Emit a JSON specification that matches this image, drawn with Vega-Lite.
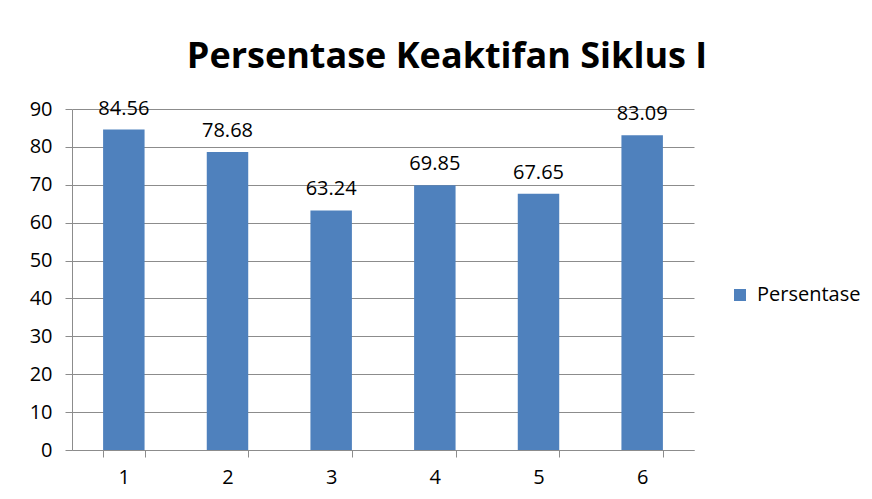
{
  "$schema": "https://vega.github.io/schema/vega-lite/v6.json",
  "width": 622,
  "height": 341,
  "autosize": {"type": "none"},
  "padding": {"left": 72, "top": 109, "right": 178, "bottom": 49},
  "background": "white",
  "title": {
    "text": "Persentase Keaktifan Siklus I",
    "font": "Open Sans",
    "fontSize": 36,
    "fontWeight": "bold",
    "color": "black",
    "anchor": "middle",
    "baseline": "alphabetic",
    "dx": 64,
    "offset": -5
  },
  "data": {
    "values": [
      {"siklus": "1", "nilai": 84.56, "seri": "Persentase"},
      {"siklus": "2", "nilai": 78.68, "seri": "Persentase"},
      {"siklus": "3", "nilai": 63.24, "seri": "Persentase"},
      {"siklus": "4", "nilai": 69.85, "seri": "Persentase"},
      {"siklus": "5", "nilai": 67.65, "seri": "Persentase"},
      {"siklus": "6", "nilai": 83.09, "seri": "Persentase"}
    ]
  },
  "encoding": {
    "x": {
      "field": "siklus",
      "type": "ordinal",
      "sort": null,
      "scale": {"paddingInner": 0.6, "paddingOuter": 0.3},
      "axis": {
        "title": null,
        "labelAngle": 0,
        "tickBand": "extent",
        "grid": false,
        "domainColor": "#8c8c8c",
        "tickColor": "#8c8c8c",
        "tickSize": 7,
        "labelPadding": 10,
        "labelFont": "Open Sans",
        "labelFontSize": 20,
        "labelColor": "black"
      }
    },
    "y": {
      "field": "nilai",
      "type": "quantitative",
      "scale": {"domain": [0, 90], "nice": false},
      "axis": {
        "title": null,
        "values": [0, 10, 20, 30, 40, 50, 60, 70, 80, 90],
        "grid": true,
        "gridColor": "#8c8c8c",
        "gridWidth": 1,
        "domainColor": "#8c8c8c",
        "tickColor": "#8c8c8c",
        "tickSize": 7,
        "labelPadding": 13,
        "labelFont": "Open Sans",
        "labelFontSize": 20,
        "labelColor": "black"
      }
    }
  },
  "layer": [
    {
      "mark": {"type": "bar"},
      "encoding": {
        "color": {
          "field": "seri",
          "type": "nominal",
          "scale": {"range": ["#4f81bd"]},
          "legend": {
            "title": null,
            "orient": "none",
            "legendX": 658,
            "legendY": 176,
            "symbolType": "square",
            "symbolSize": 144,
            "symbolStrokeWidth": 0,
            "labelFont": "Open Sans",
            "labelFontSize": 20,
            "labelColor": "black",
            "labelOffset": 7
          }
        }
      }
    },
    {
      "mark": {"type": "text", "font": "Open Sans", "fontSize": 20, "color": "black", "baseline": "alphabetic", "dy": -15},
      "encoding": {
        "text": {"field": "nilai", "type": "quantitative", "format": ".2f"}
      }
    }
  ],
  "config": {
    "view": {"stroke": null}
  }
}
